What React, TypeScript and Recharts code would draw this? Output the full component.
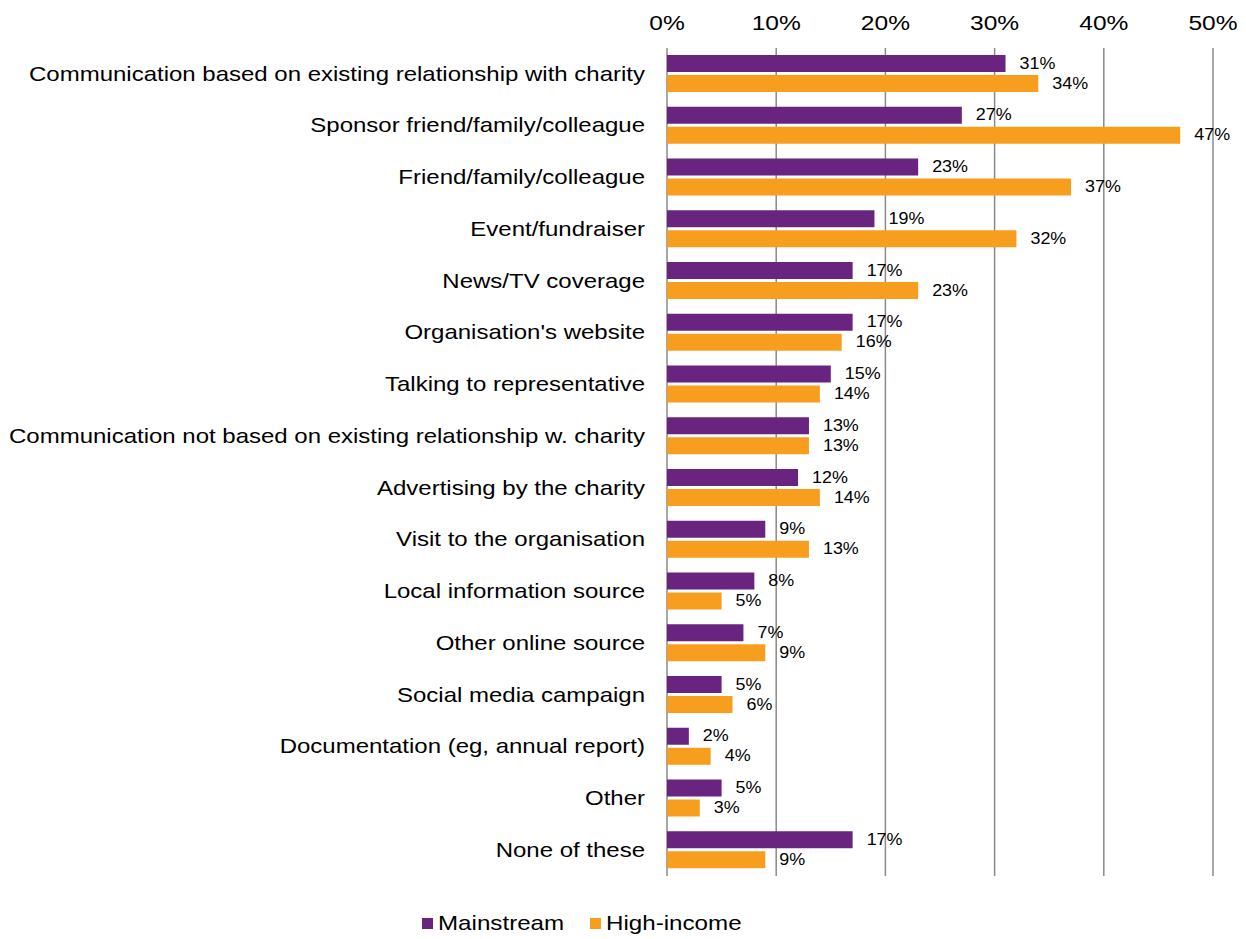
import React from "react";
import {
  BarChart,
  Bar,
  XAxis,
  YAxis,
  CartesianGrid,
  Legend,
  LabelList,
} from "recharts";

const categories = [
  "Communication based on existing relationship with charity",
  "Sponsor friend/family/colleague",
  "Friend/family/colleague",
  "Event/fundraiser",
  "News/TV coverage",
  "Organisation's website",
  "Talking to representative",
  "Communication not based on existing relationship w. charity",
  "Advertising by the charity",
  "Visit to the organisation",
  "Local information source",
  "Other online source",
  "Social media campaign",
  "Documentation (eg, annual report)",
  "Other",
  "None of these",
];

const mainstream = [31, 27, 23, 19, 17, 17, 15, 13, 12, 9, 8, 7, 5, 2, 5, 17];
const highIncome = [34, 47, 37, 32, 23, 16, 14, 13, 14, 13, 5, 9, 6, 4, 3, 9];

const xTicks = [0, 10, 20, 30, 40, 50];

const seriesNames = ["Mainstream", "High-income"];

const PURPLE = "#68247f";
const ORANGE = "#f79e1f";
const FONT = "'Liberation Sans', Arial, sans-serif";

const data = categories.map((name, i) => ({
  name,
  mainstream: mainstream[i],
  highIncome: highIncome[i],
}));

const pct = (v: number) => `${v}%`;

// the source image is a bit stretched sideways, so text gets a small scaleX
const CategoryTick = (props: any) => {
  const { x, y, payload } = props;
  return (
    <text
      transform={`translate(${x},${y}) scale(1.2,1)`}
      textAnchor="end"
      dominantBaseline="central"
      fontSize={20}
      fontFamily={FONT}
      fill="#000"
    >
      {payload.value}
    </text>
  );
};

const PercentTick = (props: any) => {
  const { x, y, payload } = props;
  return (
    <text
      transform={`translate(${x},${y}) scale(1.17,1)`}
      textAnchor="middle"
      fontSize={21}
      fontFamily={FONT}
      fill="#000"
    >
      {pct(payload.value)}
    </text>
  );
};

const ValueLabel = (props: any) => {
  const { x, y, width, height, value } = props;
  return (
    <text
      transform={`translate(${x + width + 14},${y + height / 2}) scale(1.12,1)`}
      dominantBaseline="central"
      fontSize={16}
      fontFamily={FONT}
      fill="#000"
    >
      {pct(value)}
    </text>
  );
};

const LegendContent = () => {
  const colors = [PURPLE, ORANGE];
  return (
    <div style={{ display: "flex", alignItems: "center", fontFamily: FONT }}>
      {seriesNames.map((n, i) => (
        <div
          key={n}
          style={{ display: "flex", alignItems: "center", marginRight: i === 0 ? 13 : 0 }}
        >
          <span
            style={{
              display: "inline-block",
              width: 11,
              height: 11,
              background: colors[i],
              marginRight: 5,
            }}
          />
          <span
            style={{
              display: "inline-block",
              fontSize: 21,
              color: "#000",
              transform: "scaleX(1.15)",
              transformOrigin: "left center",
              width: i === 0 ? 139 : 154,
              whiteSpace: "nowrap",
            }}
          >
            {n}
          </span>
        </div>
      ))}
    </div>
  );
};

export default function App() {
  return (
    <div style={{ position: "absolute", left: 0, top: 0, fontFamily: FONT }}>
      <BarChart
        width={1246}
        height={939}
        data={data}
        layout="vertical"
        margin={{ top: 18, right: 33, left: 0, bottom: 35 }}
        barSize={17}
        barGap={3}
      >
        <CartesianGrid horizontal={false} stroke="#8a8a8a" strokeWidth={1.5} />
        <XAxis
          type="number"
          orientation="top"
          domain={[0, 50]}
          ticks={xTicks}
          tickFormatter={pct}
          axisLine={false}
          tickLine={false}
          tickSize={0}
          tickMargin={0}
          height={30}
          tick={(p: any) => <PercentTick {...p} y={p.y - 18} />}
        />
        <YAxis
          type="category"
          dataKey="name"
          width={667}
          axisLine={false}
          tickLine={false}
          tickSize={0}
          tickMargin={22}
          interval={0}
          tick={<CategoryTick />}
        />
        <Legend
          verticalAlign="bottom"
          content={<LegendContent />}
          wrapperStyle={{ bottom: 0, left: 422, width: 340, height: 28 }}
        />
        <Bar dataKey="mainstream" name={seriesNames[0]} fill={PURPLE} isAnimationActive={false}>
          <LabelList dataKey="mainstream" content={<ValueLabel />} />
        </Bar>
        <Bar dataKey="highIncome" name={seriesNames[1]} fill={ORANGE} isAnimationActive={false}>
          <LabelList dataKey="highIncome" content={<ValueLabel />} />
        </Bar>
      </BarChart>
    </div>
  );
}
